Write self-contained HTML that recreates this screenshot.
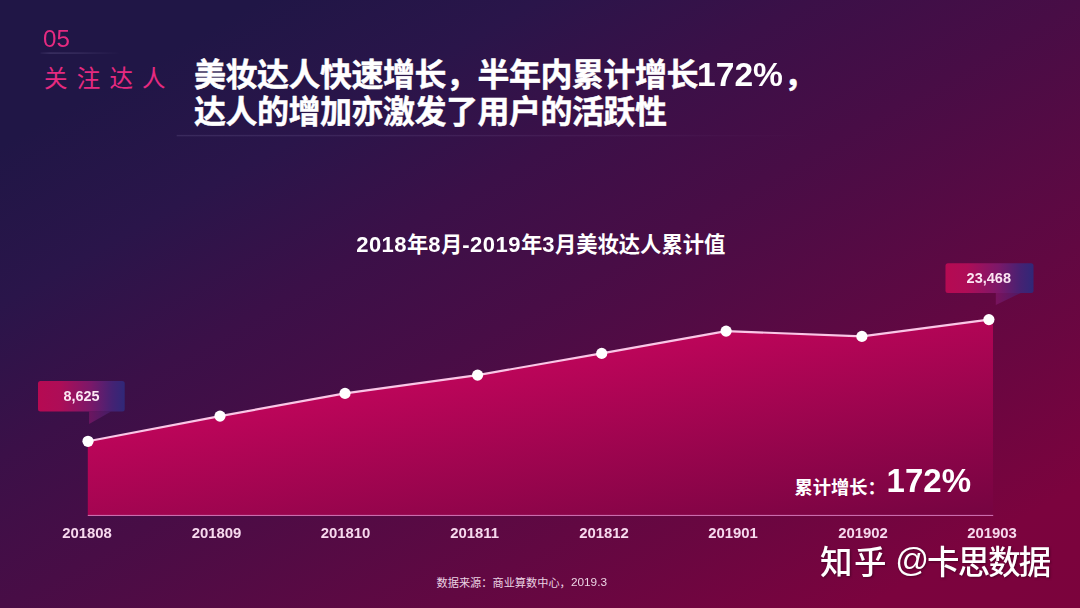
<!DOCTYPE html>
<html lang="zh-CN">
<head>
<meta charset="utf-8">
<title>美妆达人累计值</title>
<style>
html,body{margin:0;padding:0;background:#201646}
body{width:1080px;height:608px;overflow:hidden;font-family:"Liberation Sans",sans-serif}
.slide{position:relative;width:1080px;height:608px;overflow:hidden;
 background:linear-gradient(to bottom right,#201646 0%,#201646 12%,#2A154A 25%,#3B1048 37.5%,#480D46 50%,#7B033E 90%,#7B033C 100%)}
svg{position:absolute;left:0;top:0;display:block}
.run{will-change:transform}
.run span{position:absolute;white-space:pre;line-height:1;font-weight:700;transform-origin:0 50%}
.run .c{color:transparent}
.run.wm{filter:drop-shadow(1px 1px 0.8px rgba(50,0,25,.6))}
svg.glyphs .wm{filter:drop-shadow(1px 1px 0.8px rgba(50,0,25,.6))}
svg.glyphs text{font-family:"Liberation Sans","Noto Sans CJK SC",sans-serif;white-space:pre}
</style>
</head>
<body>
<div class="slide">
<svg class="chart" width="1080" height="608" viewBox="0 0 1080 608" aria-hidden="true">
<defs>
<linearGradient id="ga" gradientUnits="userSpaceOnUse" x1="72.8" y1="433.9" x2="111.2" y2="662.7">
<stop offset="0" stop-color="#BE055A"/><stop offset="1" stop-color="#750441"/></linearGradient>
<linearGradient id="c1" gradientUnits="userSpaceOnUse" x1="38" y1="0" x2="125" y2="0">
<stop offset="0" stop-color="#B60A52"/><stop offset="0.25" stop-color="#AE0D57"/><stop offset="0.6" stop-color="#7C1869"/><stop offset="0.85" stop-color="#452273"/><stop offset="1" stop-color="#2F2878"/></linearGradient>
<linearGradient id="c2" gradientUnits="userSpaceOnUse" x1="945" y1="0" x2="1034" y2="0">
<stop offset="0" stop-color="#B60A52"/><stop offset="0.25" stop-color="#AE0D57"/><stop offset="0.6" stop-color="#7C1869"/><stop offset="0.85" stop-color="#452273"/><stop offset="1" stop-color="#2F2878"/></linearGradient>
<linearGradient id="l1" x1="0" y1="0" x2="1" y2="0"><stop offset="0" stop-color="#cbbcf5" stop-opacity=".05"/><stop offset=".12" stop-color="#cbbcf5" stop-opacity=".17"/><stop offset=".45" stop-color="#cbbcf5" stop-opacity=".13"/><stop offset="1" stop-color="#cbbcf5" stop-opacity="0"/></linearGradient>
<linearGradient id="l2" x1="0" y1="0" x2="1" y2="0"><stop offset="0" stop-color="#cbbcf5" stop-opacity=".12"/><stop offset=".5" stop-color="#cbbcf5" stop-opacity=".08"/><stop offset="1" stop-color="#cbbcf5" stop-opacity="0"/></linearGradient>
</defs>
<rect x="40.5" y="52.4" width="80" height="1.4" fill="url(#l1)"/>
<rect x="176.7" y="134.9" width="640" height="1.4" fill="url(#l2)"/>
<path d="M87.8,515.5 L87.8,441.3 L220,416.1 L345,393.4 L477.6,375.1 L601.7,353.4 L726.1,331.1 L861.9,336.4 L988.9,319.6 L993,319.1 L993,515.5 Z" fill="url(#ga)"/>
<rect x="87.8" y="514.9" width="905.4" height="1.1" fill="#CB6CAD"/>
<path fill="url(#c1)" d="M40.5,381 H122.2 Q124.7,381 124.7,383.5 V409.1 Q124.7,411.6 122.2,411.6 H40.5 Q38,411.6 38,409.1 V383.5 Q38,381 40.5,381 Z"/><path fill="url(#c1)" opacity=".72" d="M89.1,411.40000000000003 H111.1 L89.1,424.0 Z"/>
<path fill="url(#c2)" d="M948.0,263.3 H1031.0 Q1033.5,263.3 1033.5,265.8 V290.6 Q1033.5,293.1 1031.0,293.1 H948.0 Q945.5,293.1 945.5,290.6 V265.8 Q945.5,263.3 948.0,263.3 Z"/><path fill="url(#c2)" opacity=".72" d="M995.8,292.90000000000003 H1020.8 L995.8,305.1 Z"/>
<polyline points="88,441.3 220,416.1 345,393.4 477.6,375.1 601.7,353.4 726.1,331.1 861.9,336.4 988.9,319.6" fill="none" stroke="#FAC6E6" stroke-width="2.1" stroke-linejoin="round" stroke-linecap="round"/>
<g fill="#fff"><circle cx="88" cy="441.3" r="5.6"/><circle cx="220" cy="416.1" r="5.6"/><circle cx="345" cy="393.4" r="5.6"/><circle cx="477.6" cy="375.1" r="5.6"/><circle cx="601.7" cy="353.4" r="5.6"/><circle cx="726.1" cy="331.1" r="5.6"/><circle cx="861.9" cy="336.4" r="5.6"/><circle cx="988.9" cy="319.6" r="5.6"/></g>
</svg>
<svg class="glyphs" width="1080" height="608" viewBox="0 0 1080 608" aria-hidden="true">
<text x="44" y="86.6" font-size="23.5" font-weight="400" fill="#E62A80" letter-spacing="9.19">关注达人</text>
<g fill="#fff" stroke="#fff" stroke-width="0.45" stroke-linejoin="round" font-size="32" font-weight="700" letter-spacing="-0.5">
<text x="194" y="86">美妆达人快速增长，半年内累计增长</text>
<text x="783.9" y="86">，</text>
<text x="194" y="122.5">达人的增加亦激发了用户的活跃性</text>
</g>
<g fill="#fff" font-size="21.3" font-weight="700">
<text x="407.0" y="252.3">年</text>
<text x="441.0" y="252.3">月</text>
<text x="520.9" y="252.3">年</text>
<text x="554.9" y="252.3">月美妆达人累计值</text>
</g>
<text x="794.5" y="493.7" font-size="18.3" font-weight="700" fill="#fff">累计增长：</text>
<text x="436.5" y="587" font-size="11.2" font-weight="400" fill="#EBD3E3">数据来源：商业算数中心，</text>
<g class="wm" fill="#fff"><text x="820.1" y="573.6" font-size="32.5" font-weight="500" letter-spacing="1.4">知乎</text></g>
<g class="wm" fill="#fff"><text x="927.06" y="573.6" font-size="32.5" font-weight="500" letter-spacing="-1.9">卡思数据</text></g>
</svg>
<div class="run"><span class="l" style="left:43.30px;top:27.53px;font-size:23px;color:#E62A80;font-weight:400;transform:scaleX(1.05)">05</span></div>
<div class="run"><span class="c" style="left:44.0px;top:65.9px;font-size:23.5px">关注达人</span></div>
<div class="run"><span class="c" style="left:194.0px;top:57.8px;font-size:32px">美妆达人快速增长，半年内累计增长</span><span class="l" style="left:697.10px;top:58.36px;font-size:33.6px;color:#fff">172%</span><span class="c" style="left:783.9px;top:57.8px;font-size:32px">，</span></div>
<div class="run"><span class="c" style="left:194.0px;top:94.3px;font-size:32px">达人的增加亦激发了用户的活跃性</span></div>
<div class="run"><span class="l" style="left:356.20px;top:233.68px;font-size:22px;color:#fff;letter-spacing:0.47px">2018</span><span class="c" style="left:407.0px;top:233.6px;font-size:21.3px">年</span><span class="l" style="left:428.32px;top:233.68px;font-size:22px;color:#fff;letter-spacing:0.47px">8</span><span class="c" style="left:441.0px;top:233.6px;font-size:21.3px">月</span><span class="l" style="left:462.33px;top:233.68px;font-size:22px;color:#fff;letter-spacing:0.47px">-2019</span><span class="c" style="left:520.9px;top:233.6px;font-size:21.3px">年</span><span class="l" style="left:542.24px;top:233.68px;font-size:22px;color:#fff;letter-spacing:0.47px">3</span><span class="c" style="left:554.9px;top:233.6px;font-size:21.3px">月美妆达人累计值</span></div>
<div class="run"><span class="l" style="left:63.40px;top:389.11px;font-size:14.4px;color:#FCE6F3">8,625</span></div>
<div class="run"><span class="l" style="left:966.60px;top:270.93px;font-size:14.5px;color:#FCE6F3">23,468</span></div>
<div class="run"><span class="l" style="left:62.14px;top:526.39px;font-size:14.9px;color:#F7D9EE">201808</span></div>
<div class="run"><span class="l" style="left:191.64px;top:526.39px;font-size:14.9px;color:#F7D9EE">201809</span></div>
<div class="run"><span class="l" style="left:320.64px;top:526.39px;font-size:14.9px;color:#F7D9EE">201810</span></div>
<div class="run"><span class="l" style="left:450.14px;top:526.39px;font-size:14.9px;color:#F7D9EE">201811</span></div>
<div class="run"><span class="l" style="left:579.14px;top:526.39px;font-size:14.9px;color:#F7D9EE">201812</span></div>
<div class="run"><span class="l" style="left:708.14px;top:526.39px;font-size:14.9px;color:#F7D9EE">201901</span></div>
<div class="run"><span class="l" style="left:838.14px;top:526.39px;font-size:14.9px;color:#F7D9EE">201902</span></div>
<div class="run"><span class="l" style="left:967.14px;top:526.39px;font-size:14.9px;color:#F7D9EE">201903</span></div>
<div class="run"><span class="c" style="left:794.5px;top:477.6px;font-size:18.3px">累计增长：</span></div>
<div class="run"><span class="l" style="left:886.60px;top:464.37px;font-size:33px;color:#fff">172%</span></div>
<div class="run"><span class="c" style="left:436.5px;top:577.1px;font-size:11.2px">数据来源：商业算数中心，</span><span class="l" style="left:570.90px;top:577.01px;font-size:11.8px;color:#EBD3E3;font-weight:400">2019.3</span></div>
<div class="run wm"><span class="c" style="left:820.1px;top:545.0px;font-size:32.5px">知乎 </span></div>
<div class="run wm"><span class="l" style="left:895.17px;top:543.31px;font-size:33.3px;color:#fff;font-weight:400">@</span></div>
<div class="run wm"><span class="c" style="left:927.1px;top:545.0px;font-size:32.5px">卡思数据</span></div>
</div>
</body>
</html>
